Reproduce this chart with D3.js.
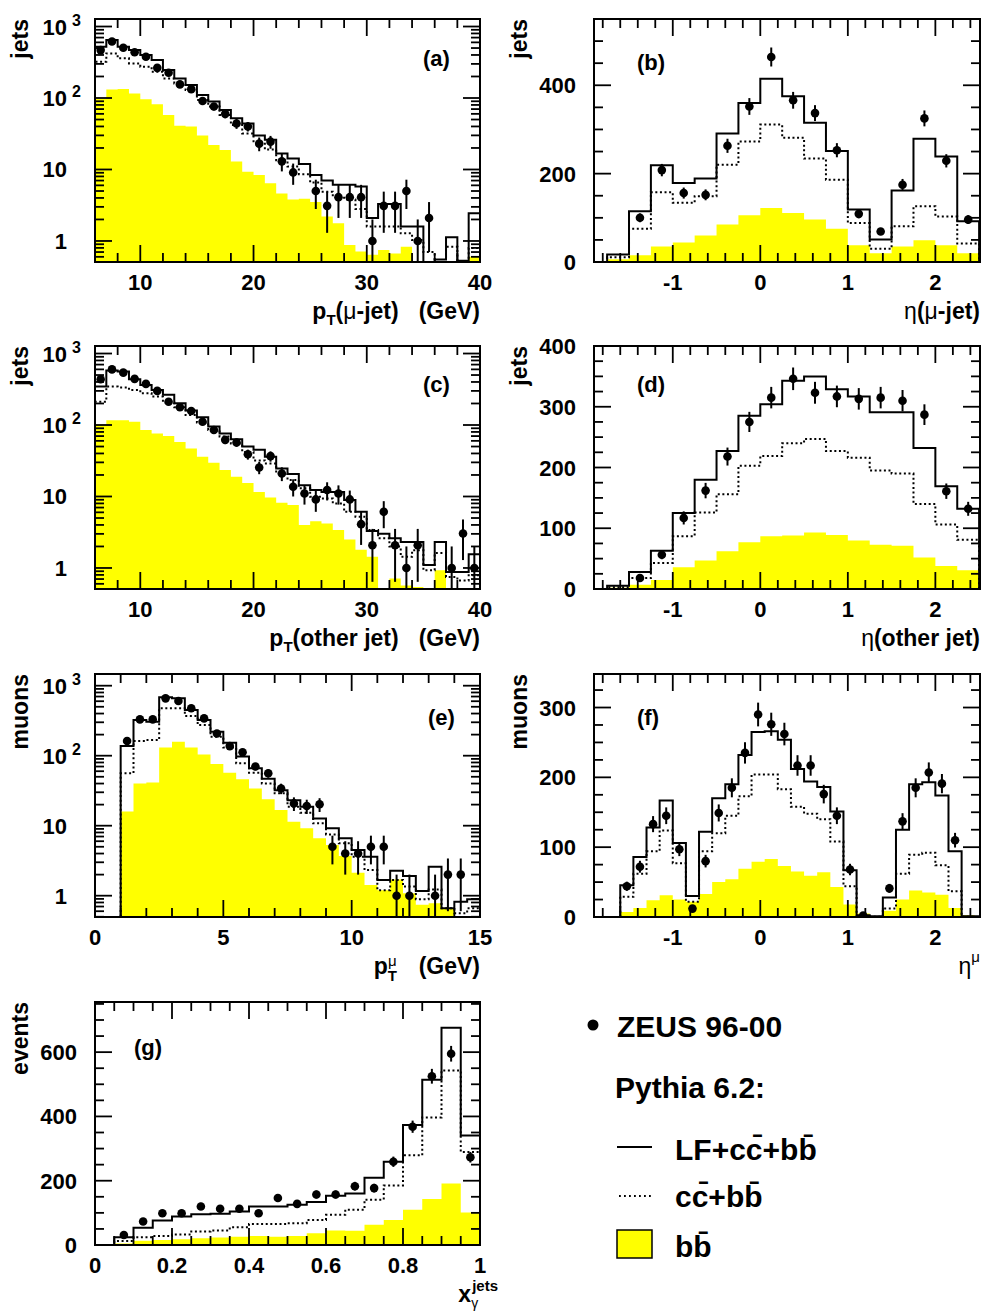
<!DOCTYPE html>
<html><head><meta charset="utf-8">
<script src="https://cdn.jsdelivr.net/npm/d3@7"></script>
<style>
body{margin:0;background:#fff}
text{font-family:"Liberation Sans",Arial,Helvetica,sans-serif;font-weight:bold;fill:#000}
</style>
</head><body>
<svg id="chart" width="983" height="1312"></svg>
<script>
// ---------------- DATA ----------------
// (a) pT(mu-jet), 1 GeV bins from 6 to 40
const aEdges = d3.range(6, 40.001, 1);
const aSolid  = [522,648,522,469,399,340,246,188,152,110,89,68,52,44,30,26,16.8,14.3,11.9,8.4,7.0,6.1,6.1,5.8,2.1,3.3,3.3,1.6,1.6,0,0.55,1.13,0.53,2.44];
const aDotted = [322,420,359,305,274,233,188,160,129,94,76,58,42,32,24,19,13.5,11,8.6,6.6,4.9,4.2,3.8,2.8,1.6,1.6,1.6,1.28,1.03,0.7,0.5,0.83,0.5,0.8];
const aYellow = [97,132,134,116,96,82,58,41,40,30,22,18.7,12.9,9.3,8.4,6.4,4.6,3.8,3.9,3.5,2.2,1.77,0.88,0.71,0.64,0.75,0.67,0.83,0,0,0,0,0,0.6];
const aData   = [468,616,505,437,378,264,226,155,133,91,76,60,44,40,23,24.5,13,9.1,null,5.0,3.1,4.1,4.1,4.1,1.0,3.1,3.1,5.0,1.0,2.1,null,null,null,null];
const aErr    = [22,25,22,21,19,16,15,12,12,10,9,8,7,6,5,5,3.6,3,null,2.2,1.8,2,2,2,1,1.8,1.8,2.2,1,1.4,null,null,null,null];

// (b) eta(mu-jet), 0.25 bins
const bEdges = d3.range(-1.75, 2.5001, 0.25);
const bSolid  = [17,115,219,179,189,291,360,415,375,315,251,119,51,162,279,239,92];
const bDotted = [11,75,158,134,149,220,273,311,281,234,186,88,30,81,126,103,42];
const bYellow = [6,15,35,44,60,85,106,122,111,96,75,38,20,35,49,38,20];
const bData   = [null,100,208,156,152,263,352,464,366,337,253,109,69,175,325,229,96];
const bErr    = [null,10,14,12.5,12.3,16,19,21.5,19,18,16,10,8,13,18,15,10];

// (c) pT(other jet)
const cEdges = d3.range(6, 40.001, 1);
const cSolid  = [345,577,562,437,363,309,264,201,159,128,95,76,63,50,45,36,24.7,20.6,14.4,12.3,11.6,11.6,8.9,6.1,3.3,3.0,2.6,2.3,2.3,1.1,2.3,0.88,0.88,1.55];
const cDotted = [212,345,336,309,278,250,206,177,138,108,85,69,55,42,32,29,21,17,13,9.9,9.4,8,6.1,5.2,3.4,2.6,2.0,1.43,1.77,0.93,1.62,0.75,0.67,0.79];
const cYellow = [101,117,117,111,85,76,70,58,47,36,29.6,23.4,18.9,15.5,11.6,9.7,8.2,7.6,4.0,4.5,4.2,3.4,2.5,1.8,1.43,0,0.71,0.57,0.54,0,0.93,0,0,0];
const cData   = [437,600,540,442,376,300,212,177,157,111,85,62,57,39,25.5,36.7,21,13.7,11,9.1,12.3,11,9.1,4.1,2.08,6.1,2.08,1.0,2.08,null,null,1.0,3.03,1.0];
const cErr    = [21,24.5,23,21,19,17,14.6,13,12.5,10.5,9.2,7.9,7.5,6.2,5,6,4.6,3.7,3.3,3,3.5,3.3,3,2,1.44,2.5,1.44,1,1.44,null,null,1,1.74,1];

// (d) eta(other jet)
const dEdges = d3.range(-1.75, 2.5001, 0.25);
const dSolid  = [5.5,28,63,125,180,227,285,304,343,350,329,317,291,291,232,169,132];
const dDotted = [3,18,43,87,126,156,203,219,240,247,227,216,195,190,140,106,81];
const dYellow = [2,7,15,36,47,62,77,87,88,93,89,80,73,71,52,38,31];
const dData   = [null,18,56.5,117,162,218,275,315,346,323,317,313,315,310,287,161,132];
const dErr    = [null,4.2,7.5,10.8,12.7,14.8,16.6,17.7,18.6,18,17.8,17.7,17.7,17.6,17,12.7,11.5];

// (e) pT(mu), 0.5 GeV bins
const eEdges = d3.range(0, 15.001, 0.5);
const eSolid  = [0,0,137,324,306,681,659,449,324,220,153,97,66,47,32,23,18.7,12.7,9.2,6.6,4.5,3.6,1.67,2.28,1.91,1.17,2.6,0.66,0.82,0.89];
const eDotted = [0,0,56,162,167,475,475,369,274,187,131,78,57,40,29,18.7,15.3,10.8,7.5,5.6,3.6,2.33,1.2,1.67,1.35,0.89,1.23,0.66,0.56,0.66];
const eYellow = [0,0,15.9,40,41.5,131,158,131,104,76,57,46,34,23.8,16.7,11.4,9.2,6.6,5.3,3.7,2.13,1.42,1.2,1.71,1.08,0.74,0.78,0.66,0,0];
const eData   = [null,null,162,330,330,659,604,475,341,208,137,112,70,56,34,20.8,19.1,20.2,5.0,4.0,4.0,5.0,5.0,1.0,1.0,null,1.0,2.0,2.0,null];
const eErr    = [null,null,12.7,18,18,25.7,24.6,21.8,18.5,14.4,11.7,10.6,8.4,7.5,5.8,4.6,4.4,4.5,2.2,2,2,2.2,2.2,1,1,null,1,1.4,1.4,null];

// (f) eta(mu), 0.15 bins
const fEdges = d3.range(-1.9, 2.6001, 0.15);
const fSolid  = [0,0,45.6,86,128,167,106,30,122,170,190,232,265,266,254,212,194,186,151,67,2.4,1,28,125,190,193,174,94,1,1];
const fDotted = [0,0,29,62,94,124,77,22,94,120,145,173,204,204,183,158,148,140,108,44,1,0.5,12,62,89,92,74,37,0.5,0];
const fYellow = [0,1,7,13,24,31,25,22,33,50,54,69,79,83,73,65,59,64,43,18,5,1,9,25,38,35,32,13,2.4,0];
const fData   = [null,null,44,72,133,145,97,12,80,149,185,235,290,276,262,217,217,176,145,68,2,null,41,137,185,207,191,110,null,null];
const fErr    = [null,null,6.6,8.5,11.5,12,9.8,3.5,9,12.2,13.6,15.3,17,16.6,16.2,14.7,14.7,13.3,12,8.2,1.4,null,6.4,11.7,13.6,14.4,13.8,10.5,null,null];

// (g) x_gamma^jets, 0.05 bins
const gEdges = d3.range(0, 1.0001, 0.05);
const gSolid  = [0,24,54,76,89,96,97,104,120,120,125,134,153,160,209,259,373,514,676,341];
const gDotted = [0,12.5,24,28,33,42,45,55,65,65,68,78,94,110,141,185,279,397,543,289];
const gYellow = [0,5,13.5,15.7,17.7,21,23,26,28,26,28,36.5,45,44,63,78,110,143,191,101];
const gData   = [null,31,73,99,99,120,113,113,99,146,128,157,157,183,177,259,368,525,595,273];
const gErr    = [null,5.6,8.5,10,10,11,10.6,10.6,10,12,11.3,12.5,12.5,13.5,13.3,16,19,23,24.4,16.5];

// tick labels
const ptXTicks  = [10,20,30,40];
const etaXTicks = [-1,0,1,2];
const logYTicks = [1,10,100,1000];
const bYTicks = [0,200,400];
const dYTicks = [0,100,200,300,400];
const eXTicks = [0,5,10,15];
const fYTicks = [0,100,200,300];
const gXTicks = [0,0.2,0.4,0.6,0.8,1];
const gYTicks = [0,200,400,600];

// ---------------- DRAW ----------------
const svg = d3.select('#chart');
const L = 95, R = 594, PW = 386, PH = 243;
const rowTop = [19, 346, 674, 1002];

function addRich(sel, parts){
  parts.forEach(p=>{
    const t = sel.append('tspan').text(p.t);
    if(p.size) t.attr('font-size', p.size);
    if(p.dy) t.attr('dy', p.dy);
    if(p.dx) t.attr('dx', p.dx);
    if(p.normal) t.style('font-weight','normal');
  });
}

function drawPanel(c){
  const g = svg.append('g').attr('transform',`translate(${c.left},${c.top})`);
  const w = c.w, h = c.h;
  const x = d3.scaleLinear().domain(c.xDomain).range([0,w]);
  const y = c.log ? d3.scaleLog().domain(c.yDomain).range([h,0])
                  : d3.scaleLinear().domain(c.yDomain).range([h,0]);
  const low = h + 20;
  const yv = v => (v > 0 ? y(v) : (c.log ? low : y(0)));

  const cid = 'clip_'+c.id;
  g.append('clipPath').attr('id',cid).append('rect').attr('width',w).attr('height',h);
  const plot = g.append('g').attr('clip-path',`url(#${cid})`);
  const E = c.edges;

  // yellow area
  let p = `M${x(E[0])},${low}`;
  c.yellow.forEach((v,i)=>{ p += `V${yv(v)}H${x(E[i+1])}`; });
  p += `V${low}Z`;
  plot.append('path').attr('d',p).attr('fill','#ffff00');

  function stepPath(vals){
    let s = `M${x(E[0])},${low}`;
    vals.forEach((v,i)=>{ s += `V${yv(v)}H${x(E[i+1])}`; });
    s += `V${low}`;
    return s;
  }
  plot.append('path').attr('d',stepPath(c.dotted)).attr('fill','none')
    .attr('stroke','#000').attr('stroke-width',2).attr('stroke-dasharray','2,2.6');
  plot.append('path').attr('d',stepPath(c.solid)).attr('fill','none')
    .attr('stroke','#000').attr('stroke-width',2);

  // data points
  const pts = c.data.map((v,i)=>({v, e:c.err[i], xc:(E[i]+E[i+1])/2})).filter(d=>d.v!=null);
  plot.selectAll('line.err').data(pts).enter().append('line')
    .attr('x1',d=>x(d.xc)).attr('x2',d=>x(d.xc))
    .attr('y1',d=>yv(d.v+d.e)).attr('y2',d=>(d.v-d.e>0? y(d.v-d.e) : (c.log?low:y(0))))
    .attr('stroke','#000').attr('stroke-width',2);
  plot.selectAll('circle.pt').data(pts).enter().append('circle')
    .attr('cx',d=>x(d.xc)).attr('cy',d=>yv(d.v)).attr('r',4.3).attr('fill','#000');

  // ticks
  const tk = g.append('g').attr('stroke','#000').attr('stroke-width',1.8);
  const MJ = 17, MN = 9;
  const xMaj = c.xTicks;
  const xMin = d3.range(c.xMinor[0], c.xDomain[1]+1e-9, c.xMinor[1])
      .filter(v=>v>=c.xDomain[0]-1e-9 && !xMaj.some(m=>Math.abs(m-v)<1e-9));
  xMaj.forEach(v=>{ const X=x(v);
    tk.append('line').attr('x1',X).attr('x2',X).attr('y1',h).attr('y2',h-MJ);
    tk.append('line').attr('x1',X).attr('x2',X).attr('y1',0).attr('y2',MJ); });
  xMin.forEach(v=>{ const X=x(v);
    tk.append('line').attr('x1',X).attr('x2',X).attr('y1',h).attr('y2',h-MN);
    tk.append('line').attr('x1',X).attr('x2',X).attr('y1',0).attr('y2',MN); });
  let yMin;
  if(c.log){
    yMin = [];
    [0.1,1,10,100,1000].forEach(d=>{ for(let k=2;k<=9;k++){ const v=k*d; if(v>=c.yDomain[0]&&v<=c.yDomain[1]) yMin.push(v);} });
  } else {
    yMin = d3.range(c.yDomain[0], c.yDomain[1]+1e-9, c.yMinor).filter(v=>!c.yTicks.includes(v));
  }
  c.yTicks.forEach(v=>{ const Y=y(v);
    tk.append('line').attr('x1',0).attr('x2',MJ).attr('y1',Y).attr('y2',Y);
    tk.append('line').attr('x1',w).attr('x2',w-MJ).attr('y1',Y).attr('y2',Y); });
  yMin.forEach(v=>{ const Y=y(v);
    tk.append('line').attr('x1',0).attr('x2',MN).attr('y1',Y).attr('y2',Y);
    tk.append('line').attr('x1',w).attr('x2',w-MN).attr('y1',Y).attr('y2',Y); });

  // frame
  g.append('rect').attr('width',w).attr('height',h).attr('fill','none')
    .attr('stroke','#000').attr('stroke-width',2);

  // x tick labels
  xMaj.forEach(v=>{
    g.append('text').attr('x',x(v)).attr('y',h+28).attr('text-anchor','middle')
      .attr('font-size',22).text(String(v));
  });
  // y tick labels
  c.yTicks.forEach(v=>{
    const Y = y(v)+8;
    if(c.log){
      const ex = Math.round(Math.log10(v));
      const base = ex<=1 ? String(v) : '10';
      g.append('text').attr('x',-28).attr('y',Y).attr('text-anchor','end').attr('font-size',22).text(base);
      if(ex>1) g.append('text').attr('x',-23).attr('y',Y-9).attr('font-size',16).text(String(ex));
    } else {
      g.append('text').attr('x',-18).attr('y',Y).attr('text-anchor','end').attr('font-size',22).text(String(v));
    }
  });

  // panel label
  g.append('text').attr('x',c.labelX).attr('y',c.labelY).attr('font-size',22).text(c.label);

  // y title
  g.append('text').attr('transform',`translate(-67,0) rotate(-90)`).attr('text-anchor','end')
    .attr('font-size',23).text(c.yTitle);

  // x title
  const xt = g.append('text').attr('x',w + (c.xTitleDx||0)).attr('y',h+57)
    .attr('text-anchor','end').attr('font-size',23);
  addRich(xt, c.xTitle);
}

const ptTitle = (inner)=>[
  {t:'p'},{t:'T',size:15,dy:6},{t:'(',size:23,dy:-6},...inner,{t:'(GeV)',dx:20}];

const panels = [
  {id:'a',left:L,top:rowTop[0],w:PW-1,h:PH,xDomain:[6,40],yDomain:[0.508,1274],log:true,
   edges:aEdges,solid:aSolid,dotted:aDotted,yellow:aYellow,data:aData,err:aErr,
   xTicks:ptXTicks,xMinor:[6,2],yTicks:logYTicks,label:'(a)',labelX:328,labelY:47,yTitle:'jets',
   xTitle:ptTitle([{t:'μ',normal:true},{t:'-jet)'}])},
  {id:'b',left:R,top:rowTop[0],w:PW,h:PH,xDomain:[-1.9,2.51],yDomain:[0,550],log:false,
   edges:bEdges,solid:bSolid,dotted:bDotted,yellow:bYellow,data:bData,err:bErr,
   xTicks:etaXTicks,xMinor:[-1.8,0.2],yTicks:bYTicks,yMinor:50,label:'(b)',labelX:43,labelY:51,yTitle:'jets',
   xTitle:[{t:'η',normal:true},{t:'('},{t:'μ',normal:true},{t:'-jet)'}]},
  {id:'c',left:L,top:rowTop[1],w:PW-1,h:PH,xDomain:[6,40],yDomain:[0.508,1274],log:true,
   edges:cEdges,solid:cSolid,dotted:cDotted,yellow:cYellow,data:cData,err:cErr,
   xTicks:ptXTicks,xMinor:[6,2],yTicks:logYTicks,label:'(c)',labelX:328,labelY:46,yTitle:'jets',
   xTitle:ptTitle([{t:'other jet)'}])},
  {id:'d',left:R,top:rowTop[1],w:PW,h:PH,xDomain:[-1.9,2.51],yDomain:[0,400],log:false,
   edges:dEdges,solid:dSolid,dotted:dDotted,yellow:dYellow,data:dData,err:dErr,
   xTicks:etaXTicks,xMinor:[-1.8,0.2],yTicks:dYTicks,yMinor:25,label:'(d)',labelX:43,labelY:46,yTitle:'jets',
   xTitle:[{t:'η',normal:true},{t:'(other jet)'}]},
  {id:'e',left:L,top:rowTop[2],w:PW-1,h:PH,xDomain:[0,15],yDomain:[0.496,1469],log:true,
   edges:eEdges,solid:eSolid,dotted:eDotted,yellow:eYellow,data:eData,err:eErr,
   xTicks:eXTicks,xMinor:[0,1],yTicks:logYTicks,label:'(e)',labelX:333,labelY:51,yTitle:'muons',
   xTitle:[{t:'p'},{t:'T',size:15,dy:7},{t:'μ',size:15,normal:true,dx:-9,dy:-15},{t:'(GeV)',size:23,dx:22,dy:8}]},
  {id:'f',left:R,top:rowTop[2],w:PW,h:PH,xDomain:[-1.9,2.51],yDomain:[0,348],log:false,
   edges:fEdges,solid:fSolid,dotted:fDotted,yellow:fYellow,data:fData,err:fErr,
   xTicks:etaXTicks,xMinor:[-1.8,0.2],yTicks:fYTicks,yMinor:25,label:'(f)',labelX:43,labelY:51,yTitle:'muons',
   xTitle:[{t:'η',normal:true},{t:'μ',size:15,normal:true,dy:-12}]},
  {id:'g',left:L,top:rowTop[3],w:PW-1,h:PH,xDomain:[0,1],yDomain:[0,756],log:false,
   edges:gEdges,solid:gSolid,dotted:gDotted,yellow:gYellow,data:gData,err:gErr,
   xTicks:gXTicks,xMinor:[0,0.05],yTicks:gYTicks,yMinor:50,label:'(g)',labelX:39,labelY:53,yTitle:'events',
   xTitleDx:18,
   xTitle:[{t:'x'},{t:'γ',size:14,normal:true,dy:6},{t:'jets',size:15,dx:-6,dy:-17}]}
];
panels.forEach(drawPanel);

// ---------------- LEGEND ----------------
const lg = svg.append('g');
lg.append('circle').attr('cx',593).attr('cy',1025).attr('r',5.5).attr('fill','#000');
lg.append('text').attr('x',617).attr('y',1037).attr('font-size',30).text('ZEUS 96-00');
lg.append('text').attr('x',615).attr('y',1098).attr('font-size',30).text('Pythia 6.2:');
lg.append('line').attr('x1',617).attr('x2',652).attr('y1',1147).attr('y2',1147)
  .attr('stroke','#000').attr('stroke-width',2);
lg.append('text').attr('x',675).attr('y',1160).attr('font-size',30).text('LF+cc\u0304+bb\u0304');
lg.append('line').attr('x1',619).attr('x2',652).attr('y1',1196).attr('y2',1196)
  .attr('stroke','#000').attr('stroke-width',1.8).attr('stroke-dasharray','1.8,3.2');
lg.append('text').attr('x',675).attr('y',1207).attr('font-size',30).text('cc\u0304+bb\u0304');
lg.append('rect').attr('x',617).attr('y',1230).attr('width',35).attr('height',28)
  .attr('fill','#ffff00').attr('stroke','#000').attr('stroke-width',1.5);
lg.append('text').attr('x',675).attr('y',1257).attr('font-size',30).text('bb\u0304');
</script>
</body></html>
